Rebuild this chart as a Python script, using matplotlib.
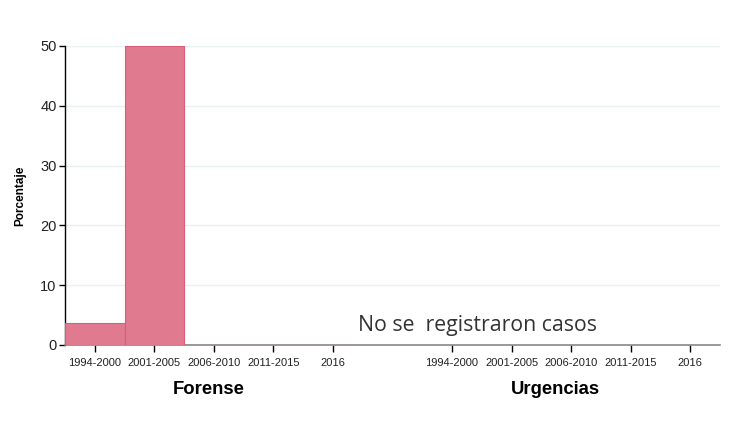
import matplotlib
matplotlib.use("Agg")
import matplotlib.pyplot as plt

plt.rcParams['font.family'] = ['Liberation Sans', 'DejaVu Sans']

periods = ["1994-2000", "2001-2005", "2006-2010", "2011-2015", "2016"]
forense_values = [3.7, 50.0, 0, 0, 0]
groups = ["Forense", "Urgencias"]
y_ticks = [0, 10, 20, 30, 40, 50]
no_data_text = "No se  registraron casos"

fig = plt.figure(figsize=(7.35, 4.29), dpi=100)
ax = fig.add_axes([65/735, 1 - 345/429, (720-65)/735, (345-46)/429])

pos_f = [i + 1 for i in range(len(periods))]
pos_u = [i + 7 for i in range(len(periods))]

ax.bar(pos_f, forense_values, width=1.0, color='#E07A8F', edgecolor='#D95C78', linewidth=0.8, zorder=3)

ax.set_xlim(0.5, 11.5)
ax.set_ylim(0, 50)
ax.set_yticks(y_ticks)
ax.set_yticklabels([str(v) for v in y_ticks], fontsize=10.5, color='#222222')
ax.set_xticks(pos_f + pos_u)
ax.set_xticklabels(periods + periods, fontsize=8, color='#222222')
ax.yaxis.grid(True, color='#E8F0F2', linewidth=1.0, zorder=0)
ax.set_axisbelow(True)

for s in ['top', 'right']:
    ax.spines[s].set_visible(False)
ax.spines['left'].set_color('black')
ax.spines['left'].set_linewidth(1.0)
ax.spines['bottom'].set_color('#888888')
ax.spines['bottom'].set_linewidth(1.2)
ax.tick_params(axis='x', length=5, width=1, color='black', pad=4)
ax.tick_params(axis='y', length=4, width=1, color='black', pad=2)

ax.set_ylabel("Porcentaje", fontsize=8.5, fontweight='bold', labelpad=10)

fig.text(209/735, 1 - 389/429, groups[0], ha='center', va='center', fontsize=13.3, fontweight='bold')
fig.text(555/735, 1 - 389/429, groups[1], ha='center', va='center', fontsize=13.3, fontweight='bold')

fig.text(477/735, 1 - 325/429, no_data_text, ha='center', va='center', fontsize=15.3,
         family=['Open Sans', 'DejaVu Sans'], color='#333333')

fig.savefig("out.png", dpi=100)
